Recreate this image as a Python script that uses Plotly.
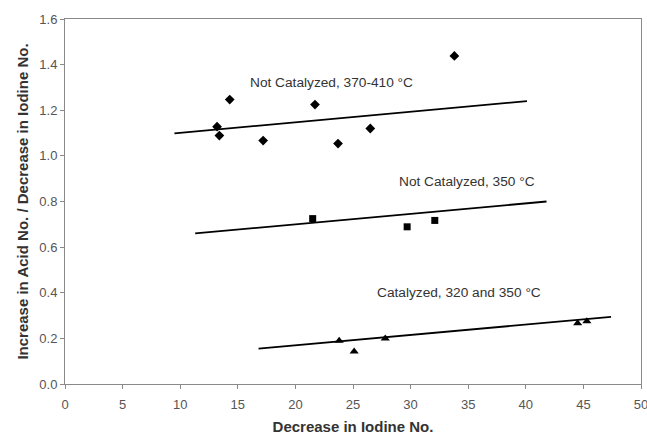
import plotly.graph_objects as go

# Measured points: x = decrease in iodine no., y = ratio
nc_hi_x = [13.2, 13.4, 14.3, 17.2, 21.7, 23.7, 26.5, 33.8]
nc_hi_y = [1.128, 1.089, 1.247, 1.067, 1.225, 1.054, 1.12, 1.438]

nc_350_x = [21.5, 29.7, 32.1]
nc_350_y = [0.725, 0.689, 0.717]

cat_x = [23.8, 25.1, 27.8, 44.5, 45.3]
cat_y = [0.19, 0.143, 0.199, 0.266, 0.275]

# Trend line end points for each group
trend_hi_x = [9.5, 40.1]
trend_hi_y = [1.099, 1.240]
trend_350_x = [11.3, 41.8]
trend_350_y = [0.660, 0.800]
trend_cat_x = [16.8, 47.4]
trend_cat_y = [0.155, 0.294]

labels = ["Not Catalyzed, 370-410 °C", "Not Catalyzed, 350 °C", "Catalyzed, 320 and 350 °C"]
label_x = [23.1, 34.9, 34.2]
label_y = [1.321, 0.887, 0.401]

x_ticks = [0, 5, 10, 15, 20, 25, 30, 35, 40, 45, 50]
y_ticks = [0.0, 0.2, 0.4, 0.6, 0.8, 1.0, 1.2, 1.4, 1.6]

FONT = "Liberation Sans, Arial"

fig = go.Figure()

for tx, ty in [(trend_hi_x, trend_hi_y), (trend_350_x, trend_350_y), (trend_cat_x, trend_cat_y)]:
    fig.add_trace(go.Scatter(x=tx, y=ty, mode="lines",
                             line=dict(color="black", width=1.8), hoverinfo="skip"))

fig.add_trace(go.Scatter(x=nc_hi_x, y=nc_hi_y, mode="markers",
                         marker=dict(symbol="diamond", size=7.5, color="black")))
fig.add_trace(go.Scatter(x=nc_350_x, y=nc_350_y, mode="markers",
                         marker=dict(symbol="square", size=7, color="black")))
fig.add_trace(go.Scatter(x=cat_x, y=cat_y, mode="markers",
                         marker=dict(symbol="triangle-up", size=8, color="black")))

for t, x, y in zip(labels, label_x, label_y):
    fig.add_annotation(x=x, y=y, text=t, showarrow=False,
                       font=dict(family=FONT, size=13.7, color="#333333"))

axis_common = dict(
    showgrid=False, zeroline=False, showline=True, linecolor="#8a8a8a", linewidth=1,
    mirror=True, ticks="outside", ticklen=4, tickcolor="#8a8a8a",
    tickfont=dict(family=FONT, size=13, color="#555555"),
    ticklabeloverflow="allow",
)

fig.update_xaxes(range=[0, 50], tickvals=x_ticks, ticktext=[str(v) for v in x_ticks],
                 ticklabelstandoff=4,
                 title=dict(text="<b>Decrease in Iodine No.</b>", standoff=12,
                            font=dict(family=FONT, size=15, color="#333333")),
                 **axis_common)
fig.update_yaxes(range=[0, 1.6], tickvals=y_ticks, ticktext=[f"{v:.1f}" for v in y_ticks],
                 title=dict(text="<b>Increase in Acid No. / Decrease in Iodine No.</b>", standoff=7,
                            font=dict(family=FONT, size=15, color="#333333")),
                 **axis_common)

fig.update_layout(
    width=647, height=435, showlegend=False,
    margin=dict(l=65, r=6, t=19, b=51, autoexpand=False),
    paper_bgcolor="white", plot_bgcolor="white",
)

fig.write_html("out.html")
